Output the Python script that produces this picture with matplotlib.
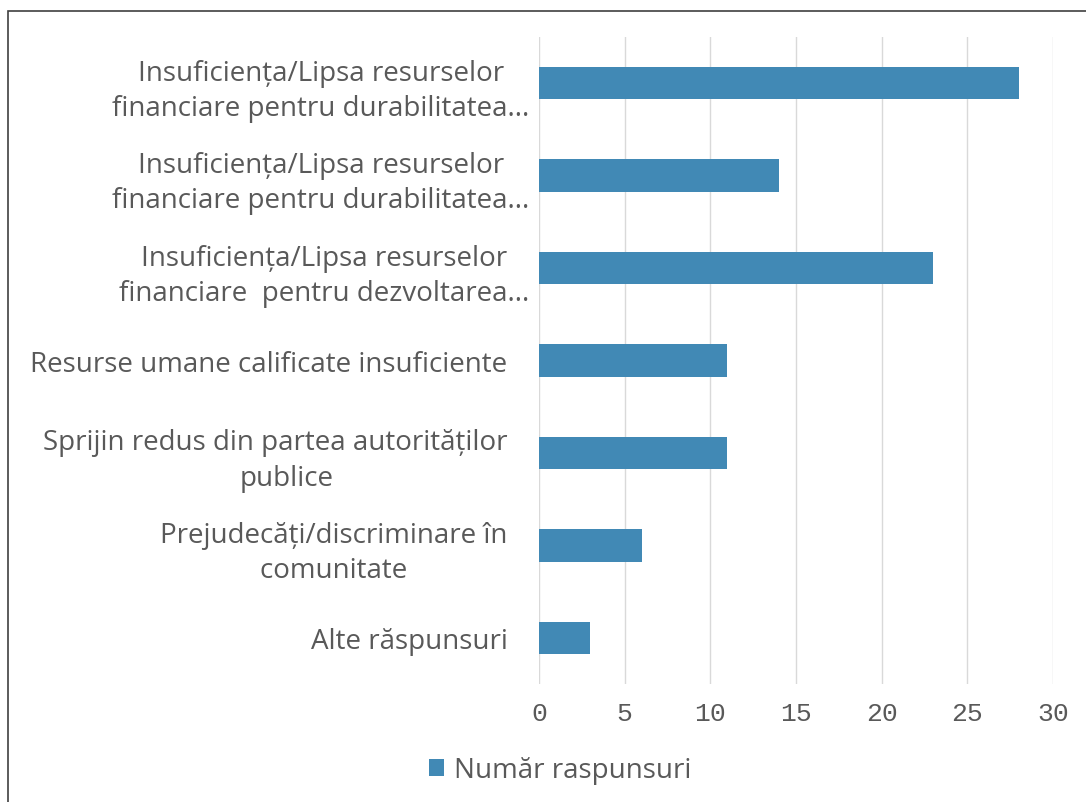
import matplotlib.pyplot as plt
from matplotlib.patches import Rectangle

# categories, top to bottom as in the picture
categorii = [
    "Insuficiența/Lipsa resurselor\nfinanciare pentru durabilitatea...",
    "Insuficiența/Lipsa resurselor\nfinanciare pentru durabilitatea...",
    "Insuficiența/Lipsa resurselor\nfinanciare  pentru dezvoltarea...",
    "Resurse umane calificate insuficiente   ",
    "Sprijin redus din partea autorităților   \npublice",
    "Prejudecăți/discriminare în   \ncomunitate   ",
    "Alte răspunsuri   ",
]
raspunsuri = [28, 14, 23, 11, 11, 6, 3]
x_ticks = [0, 5, 10, 15, 20, 25, 30]
serie = "Număr raspunsuri"

culoare = "#4189b5"
gri_text = "#595959"

fig = plt.figure(figsize=(10.86, 8.03), dpi=100)
ax = fig.add_axes([539 / 1086, 1 - 685 / 803, (1053 - 539) / 1086, (685 - 38) / 803])

poz = list(range(len(categorii)))[::-1]
ax.barh(poz, raspunsuri, height=0.35, color=culoare, label=serie, zorder=3)

ax.set_xlim(0, 30)
ax.set_ylim(-0.5, len(categorii) - 0.5)
ax.set_xticks(x_ticks)
ax.set_xticklabels([str(t) for t in x_ticks], family="Liberation Mono",
                   fontsize=19, color=gri_text)
ax.set_yticks(poz)
ax.set_yticklabels(categorii, family="Open Sans", fontsize=20, color=gri_text,
                   multialignment="center", linespacing=1.35)
ax.tick_params(axis="both", length=0)
ax.tick_params(axis="x", pad=12)
ax.tick_params(axis="y", pad=7)
ax.grid(axis="x", color="#d9d9d9", linewidth=1, zorder=0)
for s in ax.spines.values():
    s.set_visible(False)

leg = fig.legend(loc="center", bbox_to_anchor=(560 / 1086, 1 - 771 / 803),
                 frameon=False, prop={"family": "Open Sans", "size": 20},
                 handlelength=0.55, handleheight=0.55, handletextpad=0.35)
for t in leg.get_texts():
    t.set_color(gri_text)

# outer frame of the chart area
fig.patches.append(Rectangle((8 / 1086, -0.01), 1.1, 1 - 12 / 803 + 0.01,
                             transform=fig.transFigure, fill=False,
                             edgecolor="#404040", linewidth=1.2))

fig.savefig("out.png", dpi=100)
